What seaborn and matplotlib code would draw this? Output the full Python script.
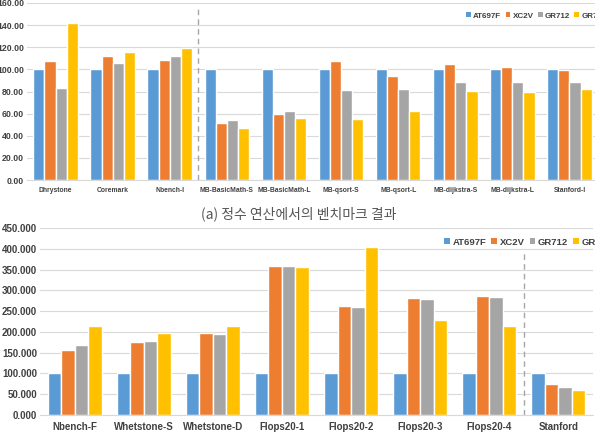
import pandas as pd
import numpy as np
import matplotlib
matplotlib.use('Agg')
import matplotlib.pyplot as plt
import seaborn as sns
from matplotlib.patches import Patch

# ---- data ----
chips = ['AT697F', 'XC2V', 'GR712', 'GR740']
colors = ['#5B9BD5', '#ED7D31', '#A5A5A5', '#FFC000']

int_bench = ['Dhrystone', 'Coremark', 'Nbench-I', 'MB-BasicMath-S', 'MB-BasicMath-L',
             'MB-qsort-S', 'MB-qsort-L', 'MB-dijkstra-S', 'MB-dijkstra-L', 'Stanford-I']
int_at697f = [100, 100, 100, 100, 100, 100, 100, 100, 100, 100]
int_xc2v = [108, 112.5, 108.3, 51.2, 59.3, 108, 93.8, 105, 101.7, 99]
int_gr712 = [83.4, 105.6, 112, 54.2, 62, 81.3, 82, 88.2, 88.8, 88.2]
int_gr740 = [142, 115.3, 119.6, 46.7, 56.3, 55.1, 62.4, 80.7, 79.8, 82.2]

fp_bench = ['Nbench-F', 'Whetstone-S', 'Whetstone-D', 'Flops20-1', 'Flops20-2',
            'Flops20-3', 'Flops20-4', 'Stanford']
fp_at697f = [100, 100, 100, 100, 100, 100, 100, 100]
fp_xc2v = [156, 174.5, 197, 359, 262, 280.5, 285.3, 75.5]
fp_gr712 = [169.6, 179.2, 195.3, 359, 261, 279.6, 283, 66.7]
fp_gr740 = [213.8, 198.5, 213.8, 356, 403.4, 229.8, 213, 60.3]

caption = '(a) 정수 연산에서의 벤치마크 결과'


def longForm(bench, series):
    rows = []
    for chip, vals in zip(chips, series):
        for b, v in zip(bench, vals):
            rows.append({'bench': b, 'chip': chip, 'value': v})
    return pd.DataFrame(rows)


df_int = longForm(int_bench, [int_at697f, int_xc2v, int_gr712, int_gr740])
df_fp = longForm(fp_bench, [fp_at697f, fp_xc2v, fp_gr712, fp_gr740])

sns.set_style('white')
plt.rcParams['font.family'] = ['Liberation Sans', 'DejaVu Sans']

W, H = 595, 442
fig = plt.figure(figsize=(W / 100, H / 100), dpi=100)


def px(x0, y0, x1, y1):
    # pixel box -> figure fraction
    return [x0 / W, 1 - y1 / H, (x1 - x0) / W, (y1 - y0) / H]


def drawChart(ax, df, bench, ymax, step, fmt, xfs, yfs, sep_x, sep_top):
    sns.barplot(data=df, x='bench', y='value', hue='chip', order=bench,
                hue_order=chips, palette=colors, width=0.78, gap=0,
                saturation=1, ax=ax, legend=False, errorbar=None)
    ax.set_ylim(0, ymax)
    ax.set_xlim(-0.5, len(bench) - 0.5)
    ticks = np.arange(0, ymax + 1e-6, step)
    ax.set_yticks(ticks)
    ax.set_yticklabels([fmt % v for v in ticks],
                       fontsize=yfs, fontweight='bold', color='#404040')
    ax.set_xticks(range(len(bench)))
    ax.set_xticklabels(bench, fontsize=xfs, fontweight='bold', color='#404040')
    ax.tick_params(axis='both', length=0)
    ax.tick_params(axis='y', pad=2)
    ax.tick_params(axis='x', pad=5)
    ax.set_xlabel('')
    ax.set_ylabel('')
    ax.grid(axis='y', color='#D9D9D9', lw=0.8)
    ax.set_axisbelow(True)
    for s in ['top', 'right', 'left']:
        ax.spines[s].set_visible(False)
    ax.spines['bottom'].set_color('#D9D9D9')
    ax.axvline(sep_x, ymin=0, ymax=sep_top, color='#A6A6A6', ls=(0, (4, 3)), lw=1)


# top chart: integer benchmarks
ax1 = fig.add_axes(px(27, 3, 598, 180))
drawChart(ax1, df_int, int_bench, 160, 20, '%.2f', 4.9, 6.3, 2.5, 0.99)

# bottom chart: floating point benchmarks
ax2 = fig.add_axes(px(40, 228, 593, 415))
drawChart(ax2, df_fp, fp_bench, 450, 50, '%.3f', 7, 7, 6.5, 0.87)

handles = [Patch(facecolor=c, edgecolor='none') for c in colors]
ax1.legend(handles, chips, loc='center left', bbox_to_anchor=(459 / W, 1 - 16 / H),
           bbox_transform=fig.transFigure, ncol=4, frameon=False,
           handlelength=0.6, handleheight=0.6, handletextpad=0.25, columnspacing=0.55,
           prop={'size': 5.8, 'weight': 'bold'}, labelcolor='#404040')
ax2.legend(handles, chips, loc='center left', bbox_to_anchor=(436 / W, 1 - 242 / H),
           bbox_transform=fig.transFigure, ncol=4, frameon=False,
           handlelength=0.6, handleheight=0.6, handletextpad=0.25, columnspacing=0.55,
           prop={'size': 6.8, 'weight': 'bold'}, labelcolor='#404040')

fig.text(299 / W, 1 - 214 / H, caption, ha='center', va='center', fontsize=10,
         color='#555555', family=['Noto Sans CJK KR', 'DejaVu Sans'])

fig.savefig('out.png', dpi=100)
